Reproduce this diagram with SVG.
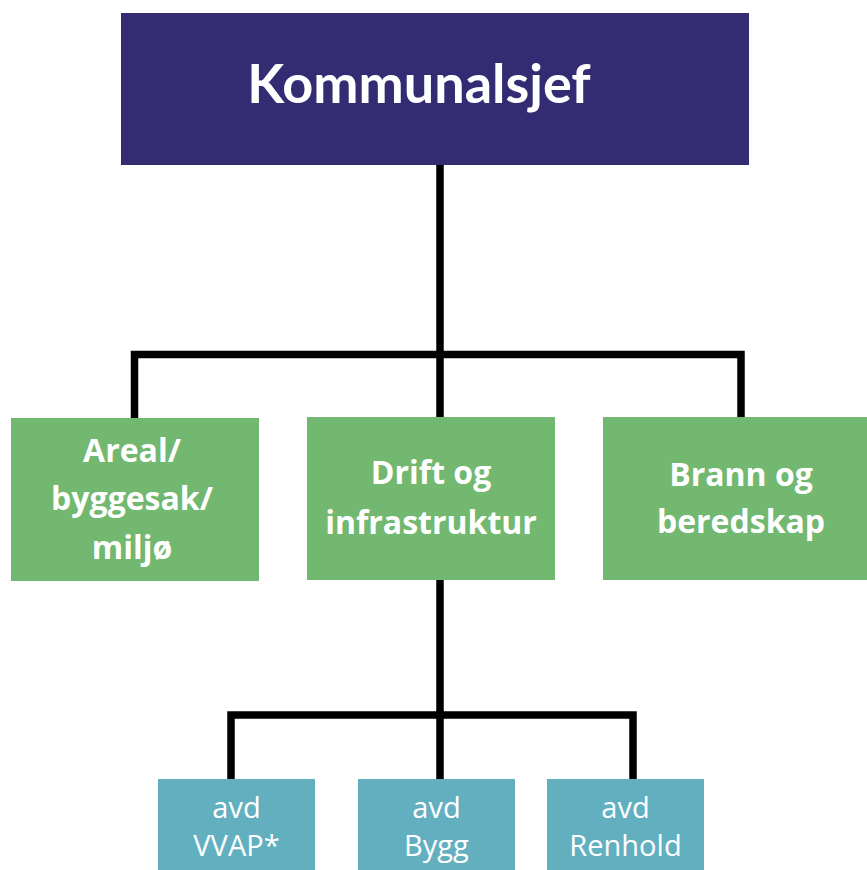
<svg xmlns="http://www.w3.org/2000/svg" width="867" height="870" viewBox="0 0 867 870">
<style>
.top{fill:#332c72}
.mid{fill:#72b870}
.sub{fill:#62b0bf}
.t1{font-family:Lato,"Open Sans",sans-serif;font-weight:700;font-size:54px;fill:#fff;text-anchor:middle}
.t2{font-family:"Open Sans",Lato,sans-serif;font-weight:700;font-size:32px;fill:#fff;text-anchor:middle}
.t3{font-family:"Open Sans",Lato,sans-serif;font-weight:400;font-size:29px;fill:#fff;text-anchor:middle}
.con{fill:none;stroke:#000;stroke-width:7.5;stroke-linejoin:miter}
</style>
<rect width="867" height="870" fill="#fff"/>
<g id="connectors">
<path class="con" d="M440 165V417"/>
<path class="con" d="M134.5 418V354.5H741V417"/>
<path class="con" d="M440 580V779"/>
<path class="con" d="M231 779V715H633V779"/>
</g>
<g id="kommunalsjef">
<rect class="top" x="121" y="13" width="628" height="152"/>
<text class="t1" x="419" y="103">Kommunalsjef</text>
</g>
<g id="areal">
<rect class="mid" x="11" y="418" width="248" height="163"/>
<text class="t2" x="132" y="462">Areal/</text>
<text class="t2" x="132" y="510">byggesak/</text>
<text class="t2" x="132" y="559">miljø</text>
</g>
<g id="drift">
<rect class="mid" x="307" y="417" width="248" height="163"/>
<text class="t2" x="431" y="484">Drift og</text>
<text class="t2" x="431" y="534">infrastruktur</text>
</g>
<g id="brann">
<rect class="mid" x="603" y="417" width="264" height="163"/>
<text class="t2" x="741" y="486">Brann og</text>
<text class="t2" x="741" y="533">beredskap</text>
</g>
<g id="vvap">
<rect class="sub" x="158" y="779" width="157" height="91"/>
<text class="t3" x="236.5" y="818">avd</text>
<text class="t3" x="236.5" y="856">VVAP*</text>
</g>
<g id="bygg">
<rect class="sub" x="358" y="779" width="157" height="91"/>
<text class="t3" x="436.5" y="818">avd</text>
<text class="t3" x="436.5" y="856">Bygg</text>
</g>
<g id="renhold">
<rect class="sub" x="547" y="779" width="157" height="91"/>
<text class="t3" x="625.5" y="818">avd</text>
<text class="t3" x="625.5" y="856">Renhold</text>
</g>
</svg>
